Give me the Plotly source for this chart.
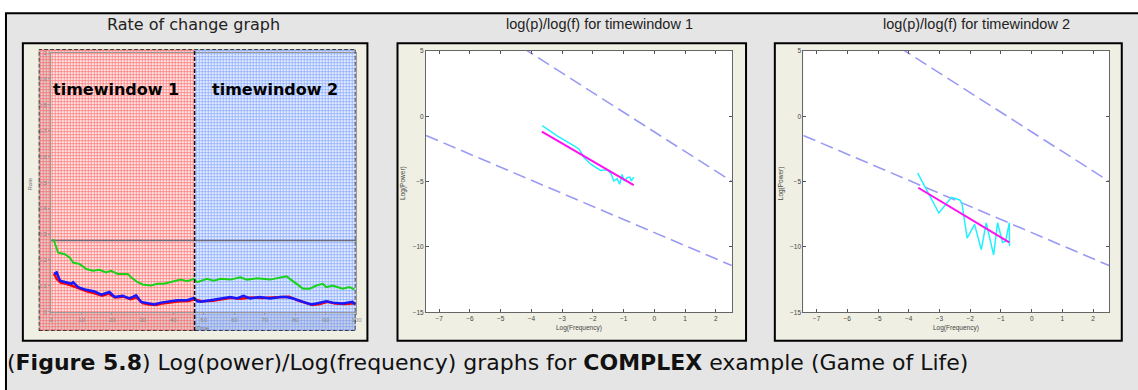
import plotly.graph_objects as go

W, H = 1138, 390

def px(x):
    return x / W

def py(y):
    return 1 - y / H

# ---------------- data ----------------
# Rate of change graph (time 0..100, rate 0..1)
window_edges = [-3.96, 47.0, 99.6]          # timewindow 1 | timewindow 2 (time units)
window_rate_span = [-0.075, 1.015]
window_names = ["timewindow 1", "timewindow 2"]
threshold_t = [0, 100]
threshold_rate = [0.275, 0.275]

green_t = [0.8, 1.9, 2.4, 4.6, 6.2, 7.3, 9.5, 11.6, 13.8, 15.9, 18.1, 19.7, 21.9, 25.2, 26.2, 28.4,
           30.0, 32.7, 34.9, 37.0, 39.2, 42.5, 44.6, 46.8, 47.9, 51.1, 53.3, 55.5, 58.7, 62.0, 64.1,
           67.4, 71.7, 75.0, 77.1, 78.2, 80.4, 82.5, 84.7, 86.9, 89.0, 90.1, 92.2, 95.5, 97.7, 99.3]
green_rate = [0.281, 0.24, 0.228, 0.222, 0.209, 0.19, 0.184, 0.165, 0.158, 0.162, 0.152, 0.158, 0.146,
              0.146, 0.133, 0.114, 0.105, 0.101, 0.108, 0.108, 0.114, 0.124, 0.118, 0.127, 0.114,
              0.127, 0.12, 0.127, 0.124, 0.133, 0.124, 0.129, 0.124, 0.133, 0.137, 0.127, 0.108,
              0.089, 0.089, 0.101, 0.108, 0.095, 0.101, 0.089, 0.095, 0.086]

red_t = [1.0, 2.0, 3.2, 5.0, 7.0, 9.0, 11.5, 14.0, 16.8, 19.0, 21.0, 23.8, 26.0, 28.0, 30.0, 32.0,
         34.5, 36.5, 39.0, 42.0, 45.0, 47.0, 49.5, 53.0, 56.0, 59.0, 62.0, 65.5, 69.0, 72.0, 75.5,
         78.0, 80.5, 83.0, 85.5, 88.0, 90.5, 93.0, 96.0, 99.5]
red_rate = [0.148, 0.125, 0.112, 0.108, 0.1, 0.09, 0.08, 0.072, 0.062, 0.07, 0.055, 0.058, 0.048,
            0.055, 0.033, 0.028, 0.026, 0.032, 0.036, 0.04, 0.041, 0.048, 0.04, 0.042, 0.048, 0.054,
            0.05, 0.055, 0.053, 0.054, 0.055, 0.058, 0.045, 0.034, 0.026, 0.03, 0.038, 0.032, 0.03,
            0.033]

blue_t = [1.1, 1.9, 3.0, 4.6, 6.8, 7.3, 8.9, 11.1, 14.3, 16.5, 19.2, 20.8, 23.5, 25.7, 27.9, 29.5,
          31.7, 33.8, 36.0, 38.1, 41.4, 44.6, 46.8, 47.9, 49.0, 52.2, 55.5, 58.7, 60.9, 63.0, 65.2,
          68.4, 71.7, 75.0, 77.1, 79.3, 82.5, 85.2, 86.9, 90.1, 92.2, 95.5, 98.7, 99.5]
blue_rate = [0.146, 0.152, 0.12, 0.114, 0.108, 0.114, 0.095, 0.086, 0.078, 0.066, 0.076, 0.057,
             0.061, 0.051, 0.063, 0.038, 0.032, 0.028, 0.035, 0.038, 0.044, 0.044, 0.053, 0.04,
             0.038, 0.044, 0.051, 0.057, 0.051, 0.061, 0.051, 0.057, 0.051, 0.057, 0.057, 0.051,
             0.038, 0.028, 0.032, 0.04, 0.035, 0.032, 0.038, 0.028]

# log(p)/log(f) reference lines (same on both panels)
ref_upper_logf = [-7.43, 2.52]
ref_upper_logp = [9.95, -4.98]
ref_lower_logf = [-7.43, 2.52]
ref_lower_logp = [-1.47, -11.42]

# timewindow 1
tw1_logf = [-3.65, -3.15, -2.61, -2.45, -2.29, -2.08, -1.75, -1.54, -1.41, -1.32, -1.21, -1.13,
            -1.05, -0.98, -0.89, -0.80, -0.75, -0.67]
tw1_logp = [-0.72, -1.52, -2.27, -2.52, -3.15, -3.65, -4.15, -4.10, -4.40, -4.95, -4.77, -5.20,
            -4.45, -4.95, -4.70, -4.65, -4.95, -4.65]
tw1_fit_logf = [-3.66, -0.67]
tw1_fit_logp = [-1.17, -5.27]

# timewindow 2
tw2_logf = [-3.71, -3.02, -2.61, -2.34, -2.27, -2.10, -1.86, -1.64, -1.48, -1.24, -1.11, -0.95,
            -0.85, -0.73, -0.72]
tw2_logp = [-4.35, -7.40, -6.20, -6.40, -6.65, -9.33, -8.27, -10.20, -8.15, -10.60, -8.15, -9.65,
            -9.55, -8.15, -9.95]
tw2_fit_logf = [-3.69, -0.73]
tw2_fit_logp = [-5.47, -9.65]

x_ticks_rate = list(range(0, 101, 10))
y_ticks_rate = [round(0.1 * i, 1) for i in range(11)]
y_tick_text_rate = ["0", "0.1", "0.2", "0.3", "0.4", "0.5", "0.6", "0.7", "0.8", "0.9", "1"]
x_ticks_log = [-7, -6, -5, -4, -3, -2, -1, 0, 1, 2]
y_ticks_log = [-15, -10, -5, 0, 5]

titles = ["Rate of change graph", "log(p)/log(f) for timewindow 1", "log(p)/log(f) for timewindow 2"]
caption = ("(<b>Figure 5.8</b>) Log(power)/Log(frequency) graphs for <b>COMPLEX</b> "
           "example (Game of Life)")

# ---------------- figure ----------------
fig = go.Figure()

# timewindow overlays (patterned fills) on overlay axes x/y
win_styles = [
    dict(fg="#ff3a3a", bg="rgba(255,212,212,0.55)"),
    dict(fg="#5a86ff", bg="rgba(208,222,255,0.55)"),
]
for i in range(2):
    a, b = window_edges[i], window_edges[i + 1]
    lo, hi = window_rate_span
    st = win_styles[i]
    fig.add_trace(go.Scatter(
        x=[a, b, b, a, a], y=[lo, lo, hi, hi, lo], mode="lines", fill="toself",
        line=dict(width=0), fillcolor=st["bg"],
        fillpattern=dict(shape="+", size=3, solidity=0.42, fgcolor=st["fg"],
                         bgcolor=st["bg"], fgopacity=0.68, fillmode="replace"),
        hoverinfo="skip", showlegend=False, xaxis="x", yaxis="y"))

# rate of change lines
fig.add_trace(go.Scatter(x=threshold_t, y=threshold_rate, mode="lines",
                         line=dict(color="#6c6c7c", width=1.6), xaxis="x2", yaxis="y2"))
fig.add_trace(go.Scatter(x=green_t, y=green_rate, mode="lines",
                         line=dict(color="#19d219", width=2), xaxis="x2", yaxis="y2"))
fig.add_trace(go.Scatter(x=red_t, y=red_rate, mode="lines",
                         line=dict(color="#ff0000", width=2.5), xaxis="x2", yaxis="y2"))
fig.add_trace(go.Scatter(x=blue_t, y=blue_rate, mode="lines",
                         line=dict(color="#1818ff", width=2.5), xaxis="x2", yaxis="y2"))

# log-log panels
panels = [("x3", "y3", tw1_logf, tw1_logp, tw1_fit_logf, tw1_fit_logp),
          ("x4", "y4", tw2_logf, tw2_logp, tw2_fit_logf, tw2_fit_logp)]
for xa, ya, lf, lp, ff, fp in panels:
    fig.add_trace(go.Scatter(x=ref_upper_logf, y=ref_upper_logp, mode="lines",
                             line=dict(color="#9a9af5", width=1.6, dash="13px,6px"),
                             xaxis=xa, yaxis=ya))
    fig.add_trace(go.Scatter(x=ref_lower_logf, y=ref_lower_logp, mode="lines",
                             line=dict(color="#9a9af5", width=1.6, dash="13px,6px"),
                             xaxis=xa, yaxis=ya))
    fig.add_trace(go.Scatter(x=lf, y=lp, mode="lines",
                             line=dict(color="#20f0ff", width=1.5), xaxis=xa, yaxis=ya))
    fig.add_trace(go.Scatter(x=ff, y=fp, mode="lines",
                             line=dict(color="#ff10f0", width=2), xaxis=xa, yaxis=ya))

# ---------------- shapes ----------------
shapes = []
# outer grey panel
shapes.append(dict(type="rect", xref="paper", yref="paper", layer="below",
                   x0=px(4), x1=px(1150), y0=py(9.3), y1=py(400),
                   fillcolor="#e5e5e5", line=dict(color="#000", width=2)))
# beige boxes
for (l, r) in [(21, 368), (398.3, 749.3), (778.3, 1127.7)]:
    shapes.append(dict(type="rect", xref="paper", yref="paper", layer="below",
                       x0=px(l), x1=px(r), y0=py(343), y1=py(40),
                       fillcolor="#efefe3", line=dict(color="#000", width=2)))
# rate chart: grey figure background + white plot area
shapes.append(dict(type="rect", xref="paper", yref="paper", layer="below",
                   x0=px(37), x1=px(356), y0=py(333), y1=py(46),
                   fillcolor="#c2c2c2", line=dict(width=0)))
shapes.append(dict(type="rect", xref="paper", yref="paper", layer="below",
                   x0=px(49.2), x1=px(356), y0=py(313.3), y1=py(48),
                   fillcolor="#ffffff", line=dict(width=0)))
# white plot areas log panels
for (l, r) in [(427, 735), (807, 1115)]:
    shapes.append(dict(type="rect", xref="paper", yref="paper", layer="below",
                       x0=px(l), x1=px(r), y0=py(314), y1=py(47.7),
                       fillcolor="#ffffff", line=dict(width=0)))
# dashed window borders
lo, hi = window_rate_span
shapes.append(dict(type="rect", xref="x", yref="y", layer="above",
                   x0=window_edges[0], x1=window_edges[-1], y0=lo, y1=hi,
                   line=dict(color="#111", width=1.5, dash="4px,2px")))
shapes.append(dict(type="line", xref="x", yref="y", layer="above",
                   x0=window_edges[1], x1=window_edges[1], y0=lo, y1=hi,
                   line=dict(color="#111", width=1.5, dash="4px,2px")))

# ---------------- annotations ----------------
def note(text, x, y, size, family="DejaVu Sans", color="#222", angle=0,
         xanchor="center", yanchor="middle"):
    return dict(text=text, x=px(x), y=py(y), xref="paper", yref="paper", showarrow=False,
                xanchor=xanchor, yanchor=yanchor, textangle=angle,
                font=dict(family=family, size=size, color=color))

ann = []
ann.append(note(titles[0], 193, 20.7, 16))
ann.append(note(titles[1], 601.7, 20.7, 14.5, family="Liberation Sans"))
ann.append(note(titles[2], 981.7, 20.7, 14.5, family="Liberation Sans"))
ann.append(note("<b>" + window_names[0] + "</b>", 115, 87, 16, color="#000"))
ann.append(note("<b>" + window_names[1] + "</b>", 274.5, 87, 16, color="#000"))
ann.append(note("Rate", 28, 183, 6, family="Liberation Sans", color="#777", angle=-90))
ann.append(note("Time", 202, 329.5, 6, family="Liberation Sans", color="#777"))
for off in [0, 380]:
    ann.append(note("Log(Frequency)", 581 + off, 330, 6.5, family="Liberation Sans", color="#444"))
    ann.append(note("Log(Power)", 404 + off, 182, 6.5, family="Liberation Sans", color="#444",
                    angle=-90))
ann.append(note(caption, 3, 365, 22, color="#111", xanchor="left"))

rate_tick_font = dict(family="Liberation Sans", size=6, color="#8a8a8a")
log_tick_font = dict(family="Liberation Sans", size=6.5, color="#444")

fig.update_layout(
    width=W, height=H, margin=dict(l=0, r=0, t=0, b=0),
    paper_bgcolor="#ffffff", plot_bgcolor="rgba(0,0,0,0)",
    showlegend=False, shapes=shapes, annotations=ann,
    xaxis=dict(domain=[px(37), px(356)], range=[window_edges[0], window_edges[-1]],
               visible=False, anchor="y", fixedrange=True),
    yaxis=dict(domain=[py(333), py(46)], range=window_rate_span,
               visible=False, anchor="x", fixedrange=True),
    xaxis2=dict(domain=[px(49.2), px(357)], range=[0, 100], anchor="y2",
                tickvals=x_ticks_rate, ticks="outside", ticklen=2, tickcolor="#999",
                showline=True, linecolor="#9a9a9a", linewidth=1, mirror=True,
                showgrid=False, zeroline=False, tickfont=rate_tick_font),
    yaxis2=dict(domain=[py(313.3), py(50)], range=[0, 1], anchor="x2",
                tickvals=y_ticks_rate, ticktext=y_tick_text_rate, ticks="outside",
                ticklen=2, tickcolor="#999",
                showline=True, linecolor="#9a9a9a", linewidth=1, mirror=True,
                showgrid=False, zeroline=False, tickfont=rate_tick_font),
)
for xa, ya, l, r in [("xaxis3", "yaxis3", 427, 735), ("xaxis4", "yaxis4", 807, 1115)]:
    xn, yn = xa.replace("axis", ""), ya.replace("axis", "")
    fig.update_layout(**{
        xa: dict(domain=[px(l), px(r)], range=[-7.43, 2.52], anchor=yn,
                 tickvals=x_ticks_log, ticks="inside", ticklen=3, tickcolor="#555",
                 showline=True, linecolor="#666", linewidth=1, mirror="ticks",
                 showgrid=False, zeroline=False, tickfont=log_tick_font),
        ya: dict(domain=[py(314), py(47.7)], range=[-15, 5], anchor=xn,
                 tickvals=y_ticks_log, ticks="inside", ticklen=3, tickcolor="#555",
                 showline=True, linecolor="#666", linewidth=1, mirror="ticks",
                 showgrid=False, zeroline=False, tickfont=log_tick_font),
    })

fig.write_html("out.html")
